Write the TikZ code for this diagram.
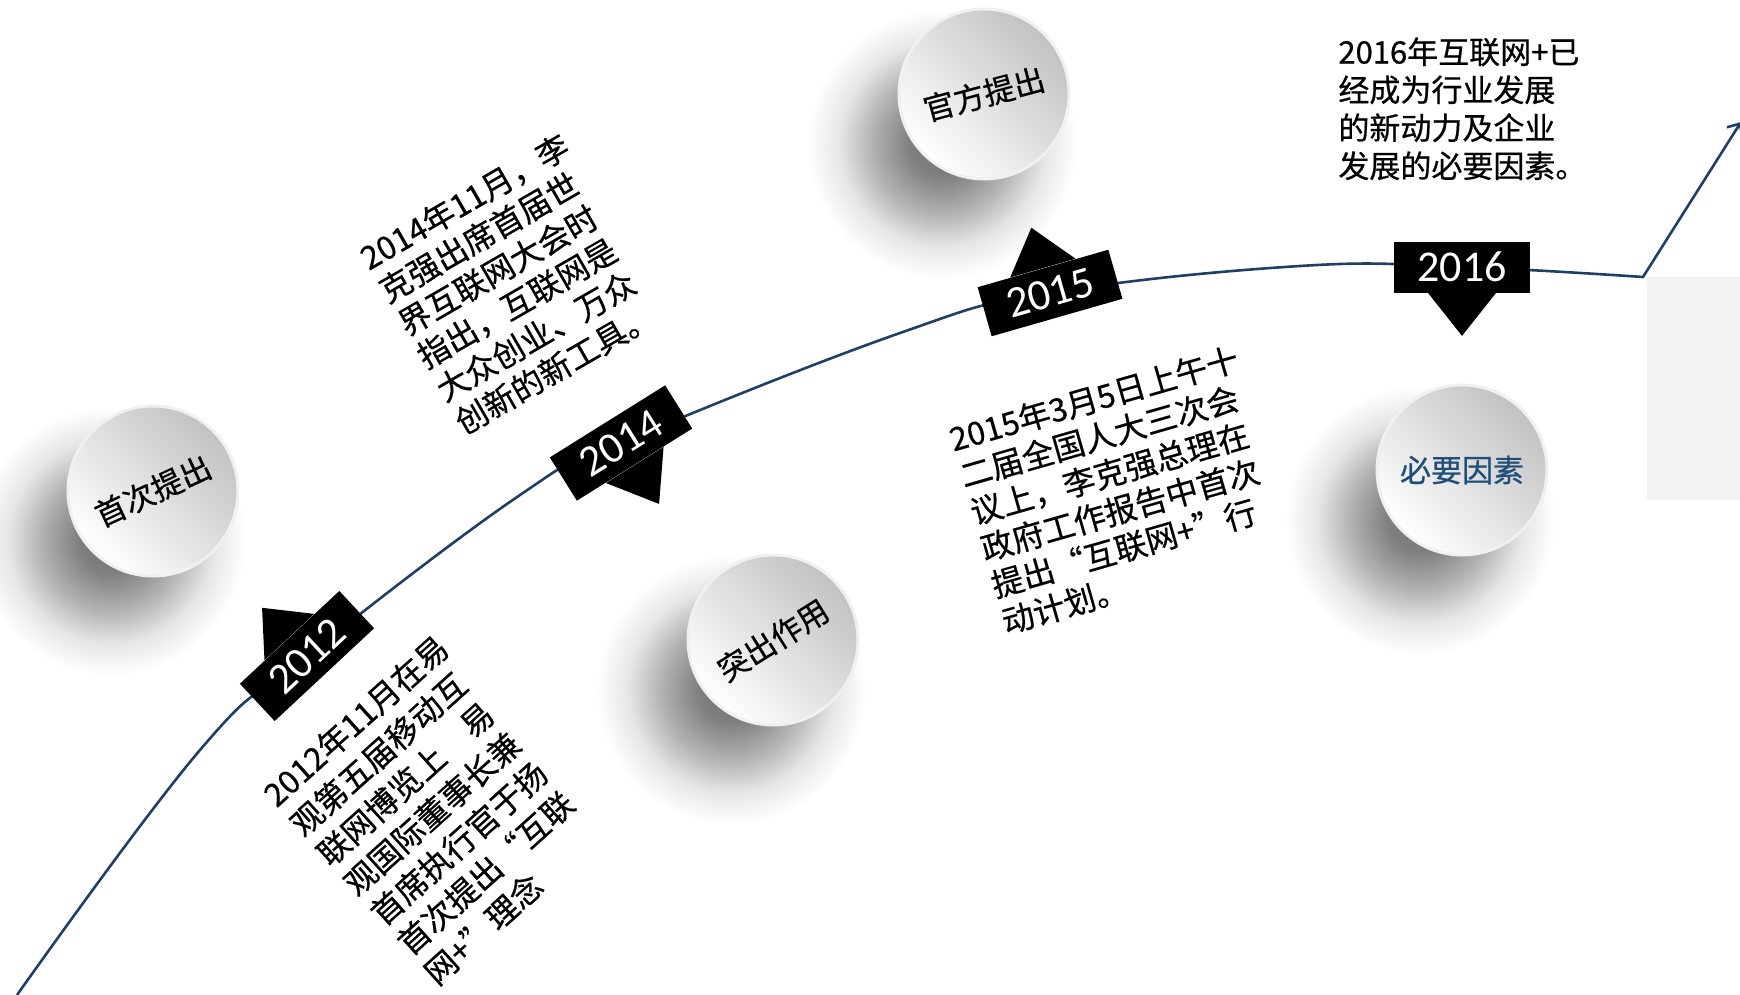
\documentclass[tikz,border=0pt]{standalone}
\usepackage{fontspec}
\usepackage{tikz}
\usepackage{xcolor}
\usetikzlibrary{calc,arrows.meta}
\setsansfont{Carlito}
\newfontfamily\cjk[FakeBold=0.6]{Noto Sans CJK SC}
\definecolor{navy}{HTML}{1F3F63}
\definecolor{deepblue}{HTML}{1F4E79}
\definecolor{panel}{HTML}{F2F2F2}
\pgfdeclareradialshading{softshadow}{\pgfpoint{0bp}{0bp}}{color(0bp)=(black!55); color(6bp)=(black!50); color(13bp)=(black!30); color(19bp)=(black!10); color(25bp)=(white); color(50bp)=(white)}

\begin{document}
\begin{tikzpicture}[x=0.5pt,y=-0.5pt]
  \tikzset{disc/.style = {circle, minimum size=85pt, inner sep=0pt, draw=black!6, line width=1.5pt, top color=black!24, bottom color=white, shading angle=-45}}
  \tikzset{disclabel/.style = {inner sep=0pt, font=\cjk\fontsize{15.5}{18}\selectfont}}
  \tikzset{yeartag/.style = {rectangle, fill=black, text=white, minimum width=68pt, minimum height=25.5pt, inner sep=0pt, font=\sffamily\fontsize{22}{22}\selectfont}}
  \tikzset{note/.style = {align=left, inner sep=0pt}}

  \useasboundingbox (0,0) rectangle (1740,995);
  \fill[panel] (1647,277) rectangle (1740,500);

  \foreach \x/\y in {153/491, 773/640, 984/94, 1462/470}
    \shade[shading=softshadow] (\x-42,\y+50) circle (135);

	\coordinate (p0) at (17,995);
	\coordinate (p1) at (200,750);
	\coordinate (k2012) at (307,656);
	\coordinate (p2) at (520,495);
	\coordinate (k2014) at (621,443);
	\coordinate (p3) at (900,333);
	\coordinate (k2015) at (1050,293);
	\coordinate (p4) at (1300,266);
	\coordinate (k2016) at (1462,267);
	\coordinate (bend) at (1643,277);
	\coordinate (end) at (1741,122);

  \draw[navy, line width=1.3pt, -{Straight Barb[length=5pt,width=9pt]}]
    plot[smooth, tension=0.7] coordinates {(p0) (p1) (k2012) (p2) (k2014) (p3) (k2015) (p4) (k2016) (bend)} -- (end);

    \foreach \name/\x/\y/\ang/\col/\txt in {c1/153/491/25/black/首次提出, c2/773/640/32/black/突出作用,
    c3/984/94/15/black/官方提出, c4/1462/470/0/deepblue/必要因素}
    {
      \node[disc] (\name) at (\x,\y) {};
      \node[disclabel, rotate=\ang, text=\col] at (\name) {\txt};
    }

	\node[note, rotate=42, font=\cjk\fontsize{16}{20}\selectfont] (n2012) at (436,810)
	  {2012年11月在易\\观第五届移动互\\联网博览上　易\\观国际董事长兼\\首席执行官于扬\\首次提出“互联\\网+”理念};
	\node[note, rotate=30, font=\cjk\fontsize{16}{19}\selectfont] (n2014) at (512,284)
	  {2014年11月，李\\克强出席首届世\\界互联网大会时\\指出，互联网是\\大众创业、万众\\创新的新工具。};
	\node[note, rotate=16, font=\cjk\fontsize{16}{19}\selectfont] (n2015) at (1120,490)
	  {2015年3月5日上午十\\二届全国人大三次会\\议上，李克强总理在\\政府工作报告中首次\\提出“互联网+”行\\动计划。};
	\node[note, anchor=north west, font=\cjk\fontsize{15.5}{19}\selectfont] (n2016) at (1338,37)
	  {2016年互联网+已\\经成为行业发展\\的新动力及企业\\发展的必要因素。};

    \foreach \yr/\ang/\side/\h in {2012/43/north/20pt, 2014/32/south/23pt, 2015/16/north/21pt, 2016/0/south/21.5pt}
    {
      \node[yeartag, rotate=\ang] (y\yr) at (k\yr) {\yr};
      \fill ($(y\yr.\side)!17pt!90:(y\yr.center)$) -- ($(y\yr.\side)!-\h!(y\yr.center)$)
        -- ($(y\yr.\side)!17pt!-90:(y\yr.center)$) -- cycle;
    }

\end{tikzpicture}
\end{document}
